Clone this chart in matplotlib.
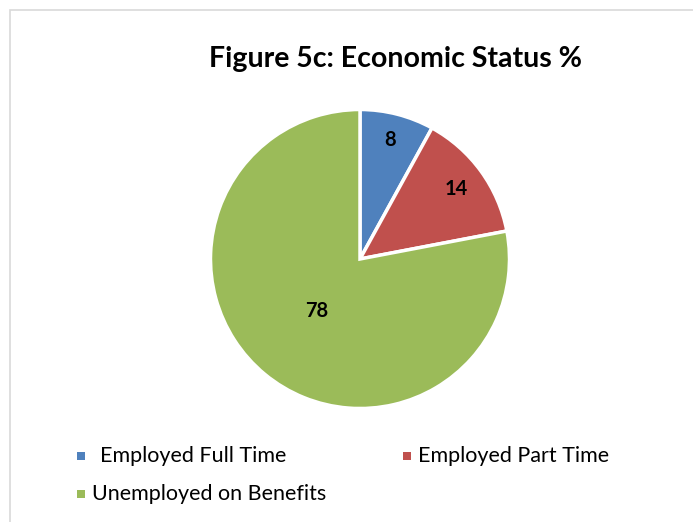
import numpy as np
import matplotlib
matplotlib.use("Agg")
import matplotlib.pyplot as plt
from matplotlib.patches import Rectangle

categories = ["Employed Full Time", "Employed Part Time", "Unemployed on Benefits"]
values = [8, 14, 78]
colors = ["#4F81BD", "#C0504D", "#9BBB59"]

W, H = 693, 522
fig = plt.figure(figsize=(W / 100, H / 100), dpi=100)
plt.rcParams["font.family"] = ["Lato", "DejaVu Sans"]

# chart area frame
fig.patches.append(Rectangle((10 / W, -0.1), 1.2, (H - 10) / H + 0.1,
                             transform=fig.transFigure, fill=False,
                             edgecolor="#D9D9D9", linewidth=1.2))

cx, cy, r = 360, 259, 149.5
ax = fig.add_axes([(cx - r) / W, (H - cy - r) / H, 2 * r / W, 2 * r / H])
wedges, _ = ax.pie(values, colors=colors, startangle=90, counterclock=False,
                   radius=1.0, wedgeprops=dict(edgecolor="white", linewidth=2.5))
ax.set_xlim(-1, 1)
ax.set_ylim(-1, 1)
ax.set_aspect("equal")
ax.axis("off")

label_dist = [0.82, 0.80, 0.45]
for w, v, d in zip(wedges, values, label_dist):
    mid = np.deg2rad((w.theta1 + w.theta2) / 2)
    ax.text(d * np.cos(mid), d * np.sin(mid), str(v), ha="center", va="center",
            fontsize=14.5, fontweight="bold", color="black")

fig.text(395 / W, 1 - 59 / H, "Figure 5c: Economic Status %", ha="center",
         va="center", fontsize=20.5, fontweight="bold")

legend_pos = [(77, 456), (403, 456), (77, 494)]
for (x, y), c, lab in zip(legend_pos, colors, categories):
    fig.patches.append(Rectangle((x / W, 1 - (y + 4) / H), 8 / W, 8 / H,
                                 transform=fig.transFigure, facecolor=c,
                                 edgecolor="none"))
    tx = x + (23 if lab == "Employed Full Time" else 15)
    fig.text(tx / W, 1 - y / H, lab, ha="left", va="center", fontsize=15.5)

fig.savefig("out.png", dpi=100)
